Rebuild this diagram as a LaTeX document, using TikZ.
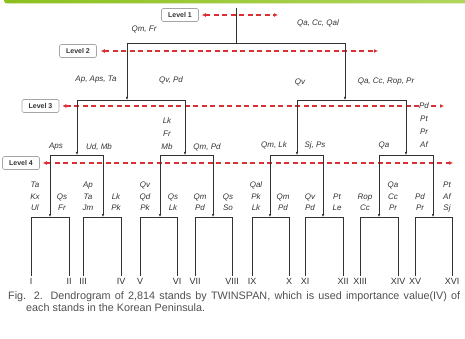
\documentclass[tikz,border=0pt]{standalone}
\usepackage{fontspec}
\setmainfont{Liberation Sans}
\usetikzlibrary{arrows.meta,positioning}

\definecolor{barleft}{RGB}{140,192,30}
\definecolor{barright}{RGB}{178,214,95}
\definecolor{dashred}{RGB}{218,48,52}
\definecolor{inkgray}{RGB}{50,50,50}
\definecolor{capgray}{RGB}{80,80,80}

\begin{document}
\begin{tikzpicture}[x=1pt,y=-1pt,
  lvbox/.style={draw=gray!70,rounded corners=1.5pt,line width=0.6pt,minimum width=37pt,minimum height=13pt,inner sep=1pt,font=\fontsize{7}{8}\selectfont\bfseries,text=inkgray},
  lvline/.style={draw=dashred,line width=1.4pt,dash pattern=on 5pt off 3.5pt,{Latex[length=4pt,width=4pt]}-{Latex[length=4pt,width=4pt]}},
  branch/.style={draw=inkgray,line width=0.9pt},
  drop/.style={branch,-{Latex[length=3pt,width=2.6pt]}},
  lbl/.style={font=\fontsize{8}{11.5}\selectfont\itshape,text=inkgray,inner sep=0pt,align=center},
  stack/.style={lbl,anchor=south,text depth=1.5pt},
  leafnum/.style={font=\fontsize{9}{10}\selectfont,text=inkgray,inner sep=1.5pt}]

\useasboundingbox (0,0) rectangle (465,339);

% top bar
\shade[left color=barleft,right color=barright,rounded corners=3pt] (4,-6) rectangle (472,3.5);

% levels
\node[lvbox] (lv1) at (180,15) {Level 1};
\node[lvbox] (lv2) at (78,51) {Level 2};
\node[lvbox] (lv3) at (40.5,106) {Level 3};
\node[lvbox] (lv4) at (21,163) {Level 4};

\coordinate (e1) at (278,15);
\coordinate (e2) at (378,51);
\coordinate (e3) at (444,106);
\coordinate (e4) at (453,163);

% tree points
\coordinate (root) at (236,8);
\coordinate (t2a) at (127,43);
\coordinate (t2b) at (345,43);
\coordinate (t3a) at (77,100);
\coordinate (t3b) at (185,100);
\coordinate (t3c) at (297,100);
\coordinate (t3d) at (406,100);
\coordinate (t4a) at (50,155);
\coordinate (t4b) at (103,155);
\coordinate (t4c) at (160,155);
\coordinate (t4d) at (213,155);
\coordinate (t4e) at (270,155);
\coordinate (t4f) at (323,155);
\coordinate (t4g) at (379,155);
\coordinate (t4h) at (433,155);

% leaves
\coordinate (l1) at (31,217);  \coordinate (l2) at (69,217);
\coordinate (l3) at (83,217);  \coordinate (l4) at (121,217);
\coordinate (l5) at (140,217); \coordinate (l6) at (177,217);
\coordinate (l7) at (195,217); \coordinate (l8) at (232,217);
\coordinate (l9) at (252,217); \coordinate (l10) at (289,217);
\coordinate (l11) at (305,217); \coordinate (l12) at (343,217);
\coordinate (l13) at (360,217); \coordinate (l14) at (398,217);
\coordinate (l15) at (415,217); \coordinate (l16) at (452,217);

\node[leafnum] (r1) at (31,281) {I};
\node[leafnum] (r2) at (69,281) {II};
\node[leafnum] (r3) at (83,281) {III};
\node[leafnum] (r4) at (121,281) {IV};
\node[leafnum] (r5) at (140,281) {V};
\node[leafnum] (r6) at (177,281) {VI};
\node[leafnum] (r7) at (195,281) {VII};
\node[leafnum] (r8) at (232,281) {VIII};
\node[leafnum] (r9) at (252,281) {IX};
\node[leafnum] (r10) at (289,281) {X};
\node[leafnum] (r11) at (305,281) {XI};
\node[leafnum] (r12) at (343,281) {XII};
\node[leafnum] (r13) at (360,281) {XIII};
\node[leafnum] (r14) at (398,281) {XIV};
\node[leafnum] (r15) at (415,281) {XV};
\node[leafnum] (r16) at (452,281) {XVI};

% red level lines
\draw[lvline,shorten <=3pt] (lv1) -- (e1);
\draw[lvline,shorten <=4pt] (lv2) -- (e2);
\draw[lvline,shorten <=3pt] (lv3) -- (e3);
\draw[lvline,shorten <=3pt] (lv4) -- (e4);

% division 1
\draw[branch] (root) -- (root |- t2a);
\draw[branch] (t2a) -- (t2b);
\draw[drop] (t2a) -- (t2a |- t3a);
\draw[drop] (t2b) -- (t2b |- t3c);

% division 2
\draw[branch] (t3a) -- (t3b);
\draw[branch] (t3c) -- (t3d);
\draw[drop] (t3a) -- (t3a |- t4a);
\draw[drop] (t3b) -- (t3b |- t4c);
\draw[drop] (t3c) -- (t3c |- t4e);
\draw[drop] (t3d) -- (t3d |- t4g);

% division 3
\draw[branch] (t4a) -- (t4b);
\draw[branch] (t4c) -- (t4d);
\draw[branch] (t4e) -- (t4f);
\draw[branch] (t4g) -- (t4h);
\draw[drop] (t4a) -- (t4a |- l1);
\draw[drop] (t4b) -- (t4b |- l3);
\draw[drop] (t4c) -- (t4c |- l5);
\draw[drop] (t4d) -- (t4d |- l7);
\draw[drop] (t4e) -- (t4e |- l9);
\draw[drop] (t4f) -- (t4f |- l11);
\draw[drop] (t4g) -- (t4g |- l13);
\draw[drop] (t4h) -- (t4h |- l15);

% division 4
\draw[branch] (r1.north) -- (l1) -- (l2) -- (r2.north);
\draw[branch] (r3.north) -- (l3) -- (l4) -- (r4.north);
\draw[branch] (r5.north) -- (l5) -- (l6) -- (r6.north);
\draw[branch] (r7.north) -- (l7) -- (l8) -- (r8.north);
\draw[branch] (r9.north) -- (l9) -- (l10) -- (r10.north);
\draw[branch] (r11.north) -- (l11) -- (l12) -- (r12.north);
\draw[branch] (r13.north) -- (l13) -- (l14) -- (r14.north);
\draw[branch] (r15.north) -- (l15) -- (l16) -- (r16.north);

% indicator species
\node[lbl] (s1a) at (144,29) {Qm, Fr};
\node[lbl] (s1b) at (318,23) {Qa, Cc, Qal};
\node[lbl] (s2a) at (96,80) {Ap, Aps, Ta};
\node[lbl] (s2b) at (171,80) {Qv, Pd};
\node[lbl] (s2c) at (300,82) {Qv};
\node[lbl] (s2d) at (386,82) {Qa, Cc, Rop, Pr};
\node[lbl] (s3a) at (56,147) {Aps};
\node[lbl] (s3b) at (99,147) {Ud, Mb};
\node[stack] (s3c) at (167,151.4) {Lk\\[1.7pt]Fr\\[1.7pt]Mb};
\node[lbl] (s3d) at (207,147) {Qm, Pd};
\node[lbl] (s3e) at (274,145) {Qm, Lk};
\node[lbl] (s3f) at (315,145) {Sj, Ps};
\node[lbl] (s3g) at (384,145) {Qa};
\node[lbl,fill=white,inner sep=0.5pt] (s3h) at (424,106) {Pd};
\node[stack] (s3i) at (424,149.4) {Pt\\[1.5pt]Pr\\[1.5pt]Af};

\node[stack] (s4a) at (35,212.4) {Ta\\Kx\\Ul};
\node[stack] (s4b) at (62,212.4) {Qs\\Fr};
\node[stack] (s4c) at (88,212.4) {Ap\\Ta\\Jm};
\node[stack] (s4d) at (116,212.4) {Lk\\Pk};
\node[stack] (s4e) at (145,212.4) {Qv\\Qd\\Pk};
\node[stack] (s4f) at (173,212.4) {Qs\\Lk};
\node[stack] (s4g) at (200,212.4) {Qm\\Pd};
\node[stack] (s4h) at (228,212.4) {Qs\\So};
\node[stack] (s4i) at (256,212.4) {Qal\\Pk\\Lk};
\node[stack] (s4j) at (283,212.4) {Qm\\Pd};
\node[stack] (s4k) at (310,212.4) {Qv\\Pd};
\node[stack] (s4l) at (337,212.4) {Pt\\Le};
\node[stack] (s4m) at (365,212.4) {Rop\\Cc};
\node[stack] (s4n) at (393,212.4) {Qa\\Cc\\Pr};
\node[stack] (s4o) at (420,212.4) {Pd\\Pr};
\node[stack] (s4p) at (447,212.4) {Pt\\Af\\Sj};

% caption
\node[anchor=north west,text width=452pt,inner sep=0pt,align=justify,text=capgray,
  font=\fontsize{10.8}{12}\selectfont] (caption) at (8,291)
  {\hangindent=18pt\hangafter=1 Fig. 2. Dendrogram of 2,814 stands by TWINSPAN, which is used importance value(IV) of\linebreak each stands in the Korean Peninsula.\par};

\end{tikzpicture}
\end{document}
